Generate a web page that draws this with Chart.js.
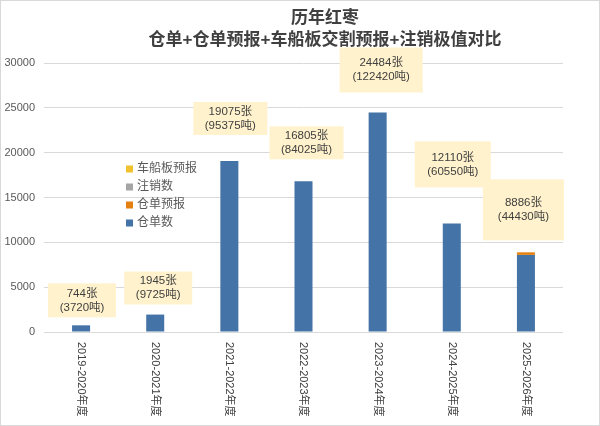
<!DOCTYPE html>
<html>
<head>
<meta charset="utf-8">
<script src="https://cdn.jsdelivr.net/npm/chart.js@4/dist/chart.umd.min.js"></script>
<style>
  html, body { margin: 0; padding: 0; background: #fff; }
  canvas { display: block; }
</style>
</head>
<body>
<canvas id="chart" width="600" height="426"></canvas>
<script>
const categories = ['2019-2020年度', '2020-2021年度', '2021-2022年度', '2022-2023年度', '2023-2024年度', '2024-2025年度', '2025-2026年度'];
const receipts = [744, 1945, 19075, 16805, 24484, 12110, 8600];
const receiptForecast = [0, 0, 0, 0, 0, 0, 286];
const cancelled = [0, 0, 0, 0, 0, 0, 0];
const vehicleForecast = [0, 0, 0, 0, 0, 0, 0];
const totalSheets = [744, 1945, 19075, 16805, 24484, 12110, 8886];
const totalTons = [3720, 9725, 95375, 84025, 122420, 60550, 44430];
const yTicks = [0, 5000, 10000, 15000, 20000, 25000, 30000];

const FONT = '"Liberation Sans", "Noto Sans CJK SC", sans-serif';
const TEXT = '#404040';

// callout boxes: offset from bar centre, gap above bar top, box size
const boxes = [
    { dx: 1, gap: 8, w: 68, h: 34 },
    { dx: 3, gap: 10, w: 68, h: 33 },
    { dx: 1, gap: 26, w: 74, h: 33 },
    { dx: 3, gap: 22, w: 74, h: 33 },
    { dx: 3.5, gap: 20, w: 83, h: 45 },
    { dx: 1, gap: 36, w: 76, h: 46 },
    { dx: -2.5, gap: 12, w: 81, h: 61 }
];

const decor = {
    id: 'decor',
    beforeDraw(chart) {
        const ctx = chart.ctx;
        ctx.save();
        ctx.fillStyle = '#fff';
        ctx.fillRect(0, 0, chart.width, chart.height);
        ctx.strokeStyle = '#d9d9d9';
        ctx.lineWidth = 1;
        ctx.strokeRect(0.5, 0.5, chart.width - 1, chart.height - 1);
        ctx.restore();
    },
    afterDraw(chart) {
        const ctx = chart.ctx;
        const x = chart.scales.x, y = chart.scales.y;
        ctx.save();

        // title
        ctx.fillStyle = TEXT;
        ctx.textAlign = 'center';
        ctx.textBaseline = 'middle';
        ctx.font = 'bold 17px ' + FONT;
        ctx.fillText('历年红枣', 325, 18);
        ctx.fillText('仓单+仓单预报+车船板交割预报+注销极值对比', 325, 40);

        // category labels, turned clockwise
        ctx.font = '11px ' + FONT;
        ctx.fillStyle = TEXT;
        categories.forEach((c, i) => {
            ctx.save();
            ctx.translate(x.getPixelForTick(i), 342);
            ctx.rotate(Math.PI / 2);
            ctx.textAlign = 'left';
            ctx.textBaseline = 'middle';
            ctx.fillText(c, 0, 0);
            ctx.restore();
        });

        // callouts
        totalSheets.forEach((t, i) => {
            const b = boxes[i];
            const cx = x.getPixelForValue(i) + b.dx;
            const bottom = y.getPixelForValue(t) - b.gap;
            const top = bottom - b.h;
            ctx.fillStyle = '#fff2cc';
            ctx.fillRect(cx - b.w / 2, top, b.w, b.h);
            ctx.fillStyle = TEXT;
            ctx.font = '11.5px ' + FONT;
            ctx.textAlign = 'center';
            ctx.textBaseline = 'middle';
            const mid = top + b.h / 2;
            ctx.fillText(t + '张', cx, mid - 7);
            ctx.fillText('(' + totalTons[i] + '吨)', cx, mid + 7);
        });

        // legend, in reverse stacking order
        const sets = chart.data.datasets.slice().reverse();
        ctx.font = '12px ' + FONT;
        ctx.textAlign = 'left';
        ctx.textBaseline = 'middle';
        sets.forEach((ds, i) => {
            const ly = 169 + i * 18;
            ctx.fillStyle = ds.backgroundColor;
            ctx.fillRect(126, ly - 3.5, 7, 7);
            ctx.fillStyle = '#595959';
            ctx.fillText(ds.label, 137, ly);
        });
        ctx.restore();
    }
};

new Chart(document.getElementById('chart'), {
    type: 'bar',
    data: {
        labels: categories,
        datasets: [
            { label: '仓单数', data: receipts, backgroundColor: '#4473a8' },
            { label: '仓单预报', data: receiptForecast, backgroundColor: '#e3800f' },
            { label: '注销数', data: cancelled, backgroundColor: '#a5a5a5' },
            { label: '车船板预报', data: vehicleForecast, backgroundColor: '#f2c12e' }
        ]
    },
    options: {
        responsive: false,
        animation: false,
        devicePixelRatio: 1,
        layout: { padding: { top: 63, right: 37, bottom: 0, left: 0 } },
        datasets: { bar: { categoryPercentage: 1, barPercentage: 0.243, borderWidth: 0 } },
        plugins: { legend: { display: false }, title: { display: false }, tooltip: { enabled: false } },
        scales: {
            x: {
                stacked: true,
                grid: { display: false },
                border: { display: false },
                ticks: { display: false },
                afterFit: s => { s.height = 94; }
            },
            y: {
                stacked: true, min: 0, max: 30000,
                afterBuildTicks: s => { s.ticks = yTicks.map(v => ({ value: v })); },
                ticks: { color: '#595959', padding: 9, font: { size: 11, family: FONT }, callback: v => String(v) },
                grid: { color: '#d9d9d9', drawTicks: false },
                border: { display: false },
                afterFit: s => { s.width = 44; }
            }
        }
    },
    plugins: [decor]
});
</script>
</body>
</html>
